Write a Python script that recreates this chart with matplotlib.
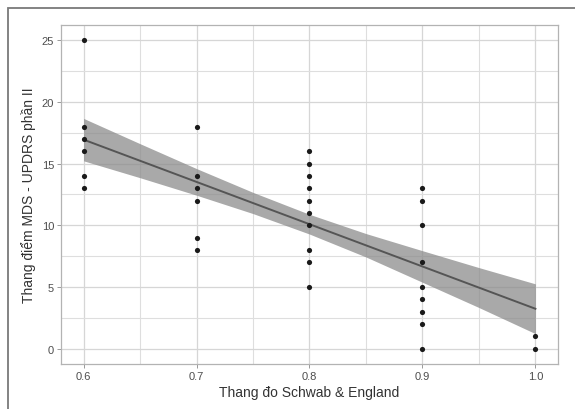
import matplotlib.pyplot as plt
from matplotlib.patches import Rectangle

# Diem quan sat doc tu hinh
x_vals = [0.6] * 6 + [0.7] * 6 + [0.8] * 10 + [0.9] * 9 + [1.0] * 2
y_vals = [25, 18, 17, 16, 14, 13,
          18, 14, 13, 12, 9, 8,
          16, 15, 14, 13, 12, 11, 10, 8, 7, 5,
          13, 12, 10, 7, 5, 4, 3, 2, 0,
          1, 0]

# duong hoi quy va khoang tin cay (doc tu hinh)
fit_x = [0.6, 1.0]
fit_y = [16.95, 3.23]
band_x = [0.6, 0.65, 0.7, 0.75, 0.8, 0.85, 0.9, 0.95, 1.0]
band_hi = [18.67, 16.62, 14.60, 12.67, 10.89, 9.33, 7.94, 6.57, 5.25]
band_lo = [15.23, 13.86, 12.44, 10.95, 9.29, 7.43, 5.38, 3.33, 1.21]

x_ticks = [0.6, 0.7, 0.8, 0.9, 1.0]
x_tick_labels = ['0.6', '0.7', '0.8', '0.9', '1.0']
y_ticks = [0, 5, 10, 15, 20, 25]

plt.rcParams['font.family'] = ['Liberation Sans', 'DejaVu Sans']

fig = plt.figure(figsize=(5.75, 4.1), dpi=100)
ax = fig.add_axes([0.1061, 0.1098, 0.8643, 0.8268])

# khung ngoai
fig.patches.append(Rectangle((8 / 575, -0.1), 1.2, (410 - 9) / 410 + 0.1,
                             transform=fig.transFigure, fill=False,
                             edgecolor='#7a7a7a', linewidth=1.3))

ax.fill_between(band_x, band_lo, band_hi,
                color='#8c8c8c', alpha=0.75, linewidth=0, zorder=2)
ax.plot(fit_x, fit_y, color='#555555', linewidth=1.4, zorder=3)
ax.scatter(x_vals, y_vals, s=14, color='#1a1a1a', zorder=4, linewidths=0)

ax.set_xlim(0.58, 1.02)
ax.set_ylim(-1.25, 26.25)
ax.set_xticks(x_ticks)
ax.set_xticklabels(x_tick_labels)
ax.set_yticks(y_ticks)
ax.set_xticks([0.65, 0.75, 0.85, 0.95], minor=True)
ax.set_yticks([2.5, 7.5, 12.5, 17.5, 22.5], minor=True)

ax.grid(which='major', color='#d6d6d6', linewidth=0.9)
ax.grid(which='minor', color='#dedede', linewidth=0.8)
ax.set_axisbelow(True)
for sp in ax.spines.values():
    sp.set_color('#b3b3b3')
    sp.set_linewidth(0.9)

ax.tick_params(which='major', length=3, width=0.7, color='#999999',
               labelsize=8, labelcolor='#4d4d4d', pad=2)
ax.tick_params(which='minor', length=0)

ax.set_xlabel('Thang đo Schwab & England', fontsize=10, color='#333333', labelpad=3)
ax.set_ylabel('Thang điểm MDS - UPDRS phần II', fontsize=10, color='#333333', labelpad=4)

fig.savefig('out.png', dpi=100)
